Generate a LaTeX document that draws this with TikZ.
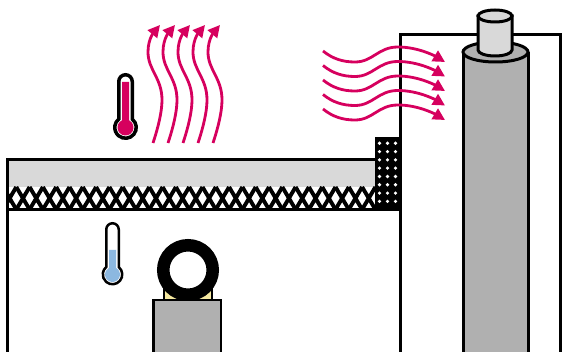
\documentclass[tikz,border=0pt]{standalone}
\usetikzlibrary{arrows.meta}

\definecolor{heat}{RGB}{214,0,94}
\definecolor{cold}{RGB}{140,184,224}
\definecolor{slabgray}{RGB}{217,217,217}
\definecolor{pipegray}{RGB}{176,176,176}
\definecolor{pale}{RGB}{245,232,160}

% thermometer body: #1 style, #2 x, #3 top of tube, #4 bulb centre, #5 half width, #6 bulb radius
\newcommand{\thermo}[6]{%
  \pgfmathsetmacro{\thA}{acos(#5/#6)}%
  \pgfmathsetmacro{\thJ}{#4-sqrt(#6*#6-#5*#5)}%
  \path[#1] ({#2-#5},{#3+#5}) arc[start angle=180, end angle=360, radius=#5]
    -- ({#2+#5},\thJ) arc[start angle=-\thA, end angle={180+\thA}, radius=#6] -- cycle;}
% liquid column: #1 colour, #2 x, #3 level, #4 bulb centre, #5 half width, #6 bulb radius
\newcommand{\thermofill}[6]{%
  \pgfmathsetmacro{\thA}{acos(#5/#6)}%
  \pgfmathsetmacro{\thJ}{#4-sqrt(#6*#6-#5*#5)}%
  \fill[#1] ({#2-#5},#3) -- ({#2+#5},#3)
    -- ({#2+#5},\thJ) arc[start angle=-\thA, end angle={180+\thA}, radius=#6] -- cycle;}

\begin{document}
\begin{tikzpicture}[x=1pt, y=-1pt, line join=miter,
    wall/.style={line width=3pt},
    wave/.style={heat, line width=2.8pt, -{Triangle[length=12pt, width=12pt]}}]
  \useasboundingbox (0,0) rectangle (563,352);

  % Plattenaufbau
  \fill[slabgray] (7.5,159.5) rectangle (375,187);
  \begin{scope}
    \clip (7.5,187) rectangle (375,209.5);
    \fill[white] (7.5,187) rectangle (375,209.5);
    \foreach \i in {0,...,28}
      \draw[line width=3.9pt] ({3+13.3*\i},187) -- ++(13.3,22.5)
                              ({16.3+13.3*\i},187) -- ++(-13.3,22.5);
  \end{scope}

  % Randstreifen
  \fill (375,137) rectangle (400,210);
  \foreach \r in {0,...,7}
    \foreach \c in {379.5,387.5,395.5}
      \fill[white] (\c,{143.3+8.3*\r}) circle (1.8);

  % Waende
  \draw[wall] (7.5,352) -- (7.5,159.5) -- (375,159.5);
  \draw[wall] (7.5,209.5) -- (400,209.5);
  \draw[wall] (400,352) -- (400,35) -- (560.5,35) -- (560.5,352);

  % Rohr
  \fill[pipegray] (463,52) rectangle (528,360);
  \draw[wall] (463,360) -- (463,52) (528,52) -- (528,360);
  \filldraw[pipegray, draw=black, wall] (495.5,52) ellipse[x radius=32.5, y radius=10];
  \filldraw[slabgray, draw=black, wall] (512,16) -- (512,50)
    arc[start angle=0, end angle=180, x radius=17, y radius=6] -- (478,16) -- cycle;
  \filldraw[slabgray, draw=black, wall] (495,16) ellipse[x radius=17, y radius=6];

  % Thermometer warm / kalt
  \thermo{fill=white, draw=black, line width=3.5pt}{125.5}{74.75}{127.5}{6.75}{10.75}
  \thermofill{heat}{125.5}{82}{127.5}{3.5}{8}
  \thermo{fill=white, draw=black, line width=2.5pt}{112.5}{223.25}{274.5}{6.25}{9.75}
  \thermofill{cold}{112.5}{250}{274.5}{3.5}{7.5}

  % Waerme nach oben
  \foreach \x in {153,168,...,213}
    \draw[wave] (\x,143) .. controls +(5,-15) and +(0,12) .. (\x+9,100)
      .. controls +(0,-22) and +(0,18) .. (\x-5,52)
      .. controls +(0,-14) and +(-5,6) .. (\x+7,25);

  % Waerme zur Seite
  \foreach \y in {51,65.5,...,110}
    \draw[wave] (323,\y) .. controls +(10,8) and +(-12,0) .. (355,\y+11)
      .. controls +(18,0) and +(-20,0) .. (398,\y-4)
      .. controls +(20,0) and +(-10,-6) .. (445,\y+11);

  % Ring auf Stuetze
  \filldraw[pale, draw=black, line width=1.5pt] (164,280) rectangle (212,300);
  \filldraw[fill=white, draw=black, line width=12.5pt] (188,270) circle (24.75);
  \filldraw[pipegray, draw=black, line width=2.5pt] (153.5,300) rectangle (221,360);
\end{tikzpicture}
\end{document}
